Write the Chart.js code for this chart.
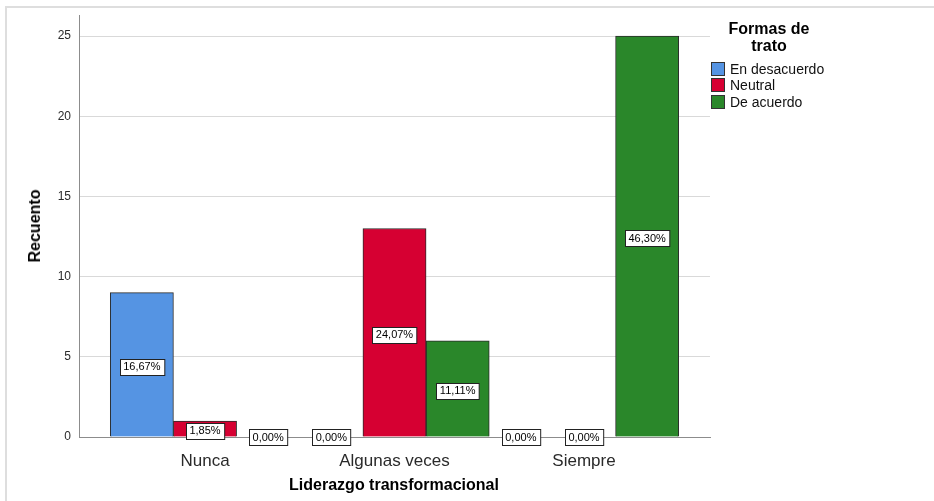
<!DOCTYPE html>
<html>
<head>
<meta charset="utf-8">
<script src="https://cdn.jsdelivr.net/npm/chart.js@4"></script>
<style>
  body { margin: 0; background: #fff; font-family: 'Liberation Sans', Arial, sans-serif; }
  #wrap { position: relative; width: 934px; height: 501px; overflow: hidden; }
  #frame { position: absolute; left: 5px; top: 6px; right: -10px; bottom: -10px;
           border-top: 2px solid #dedede; border-left: 2px solid #dedede; }
  canvas { position: absolute; left: 0; top: 0; }
  .title { position: absolute; font-weight: bold; font-size: 16px; color: #000; white-space: nowrap; }
  #ytitle { left: 35px; top: 226px; transform: translate(-50%, -50%) rotate(-90deg); }
  #xtitle { left: 394px; top: 485px; transform: translate(-50%, -50%); }
  #legend { position: absolute; left: 711px; top: 20px; }
  #legend .head { width: 116px; text-align: center; font-weight: bold; font-size: 16px; line-height: 17px; margin-bottom: 7px; }
  #legend .item { display: flex; align-items: center; height: 16.3px; font-size: 14px; color: #111; }
  #legend .box { width: 12px; height: 12px; border: 1px solid #333; margin-right: 5px; }
</style>
</head>
<body>
<div id="wrap">
  <div id="frame"></div>
  <canvas id="chart" width="934" height="501"></canvas>
  <div class="title" id="ytitle">Recuento</div>
  <div class="title" id="xtitle">Liderazgo transformacional</div>
  <div id="legend"><div class="head">Formas de<br>trato</div></div>
</div>
<script>
// Data
const categories = ['Nunca', 'Algunas veces', 'Siempre'];
const seriesNames = ['En desacuerdo', 'Neutral', 'De acuerdo'];
const enDesacuerdo = [9, 0, 0];
const neutral = [1, 13, 0];
const deAcuerdo = [0, 6, 25];
const yTicks = [0, 5, 10, 15, 20, 25];
const seriesColors = ['#5594e3', '#d60032', '#2a872a'];

const allSeries = [enDesacuerdo, neutral, deAcuerdo];
const total = allSeries.flat().reduce((a, b) => a + b, 0);

// Legend
const legend = document.getElementById('legend');
seriesNames.forEach((name, i) => {
    const item = document.createElement('div');
    item.className = 'item';
    item.innerHTML = '<div class="box" style="background:' + seriesColors[i] + '"></div>' + name;
    legend.appendChild(item);
});

// Boxed percentage labels in the middle of each bar
const pctLabels = {
    id: 'pctLabels',
    afterDatasetsDraw(chart) {
        const ctx = chart.ctx;
        ctx.save();
        ctx.font = '11px "Liberation Sans", Arial, sans-serif';
        ctx.textAlign = 'center';
        ctx.textBaseline = 'middle';
        chart.data.datasets.forEach((ds, di) => {
            chart.getDatasetMeta(di).data.forEach((bar, i) => {
                const v = ds.data[i].y;
                const text = (v / total * 100).toFixed(2).replace('.', ',') + '%';
                const cy = (bar.y + bar.base) / 2 + (v > 0 ? 2 : 0);
                const w = ctx.measureText(text).width + 7;
                const h = 16;
                const x0 = Math.round(bar.x - w / 2) + 0.5;
                const y0 = Math.round(cy - h / 2) + 0.5;
                ctx.fillStyle = '#fff';
                ctx.fillRect(x0, y0, w, h);
                ctx.strokeStyle = '#222';
                ctx.lineWidth = 1;
                ctx.strokeRect(x0, y0, w, h);
                ctx.fillStyle = '#000';
                ctx.fillText(text, bar.x, cy + 0.5);
            });
        });
        ctx.restore();
    }
};

new Chart(document.getElementById('chart').getContext('2d'), {
    type: 'bar',
    data: {
        datasets: allSeries.map((values, i) => ({
            label: seriesNames[i],
            data: values.map((v, j) => ({ x: j, y: v })),
            backgroundColor: seriesColors[i],
            borderColor: '#2b2b2b',
            borderWidth: 1,
            categoryPercentage: 1,
            barPercentage: 1
        }))
    },
    options: {
        responsive: false,
        animation: false,
        layout: { padding: { top: 14, right: 224, left: 0, bottom: 0 } },
        plugins: { legend: { display: false }, tooltip: { enabled: false } },
        scales: {
            x: {
                type: 'linear',
                offset: false,
                min: -0.665,
                max: 2.665,
                afterFit(scale) { scale.height = 64; },
                afterBuildTicks(scale) { scale.ticks = categories.map((c, i) => ({ value: i })); },
                grid: { display: false, offset: false },
                border: { display: true, color: '#8c8c8c', width: 1 },
                ticks: {
                    padding: 6,
                    maxRotation: 0,
                    autoSkip: false,
                    color: '#2a2a2a',
                    font: { family: '"Liberation Sans", Arial, sans-serif', size: 17 },
                    callback: (value) => categories[value]
                }
            },
            y: {
                min: 0,
                max: 26.3,
                afterFit(scale) { scale.width = 79; },
                afterBuildTicks(scale) { scale.ticks = yTicks.map(v => ({ value: v })); },
                grid: { color: '#d9d9d9', drawTicks: false },
                border: { display: true, color: '#8c8c8c', width: 1 },
                ticks: {
                    padding: 8,
                    color: '#2a2a2a',
                    font: { family: '"Liberation Sans", Arial, sans-serif', size: 12 }
                }
            }
        }
    },
    plugins: [pctLabels]
});
</script>
</body>
</html>
